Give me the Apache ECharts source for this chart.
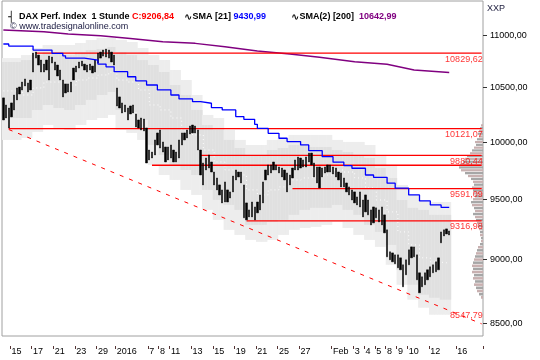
<!DOCTYPE html>
<html><head><meta charset="utf-8">
<script src="https://cdn.jsdelivr.net/npm/echarts@6/dist/echarts.min.js"></script>
<style>html,body{margin:0;padding:0;background:#fff}#c{width:540px;height:360px}</style>
</head><body><div id="c"></div>
<script>
// ---- axis categories (trading days, hourly slots) ----
const dayLabels = ['14','15','16','17','18','21','22','23','28','29','30','2016','5','6','7','8','11','12','13','14','15','18','19','20','21','22','25','26','27','28','29','Feb','2','3','4','5','8','9','10','11','12','15','16'];
const daySlots  = [3,4,4,4,4,4,4,4,4,4,3,4,4,4,4,4,4,4,4,4,4,4,4,4,4,4,4,4,4,4,4,4,4,4,4,4,4,4,4,4,4,6,10];
const dayShown  = [0,1,0,1,0,1,0,1,0,1,0,1,0,0,1,1,1,0,1,0,1,0,1,0,1,0,1,0,1,0,0,1,0,1,1,1,1,1,1,0,1,0,1];
const yTicks = [8500,9000,9500,10000,10500,11000];

// ---- price (hourly bars: high / low) ----
const priceHigh = [10404,10338,10310,10357,10431,10497,10506,10553,10582,10544,10572,10830,10840,10811,10763,10724,10763,10801,10792,10744,10715,10667,10572,10535,10535,10553,10686,10705,10744,10753,10724,10715,10724,10705,10763,10830,10840,10860,10870,10860,10840,10811,
10497,10413,10357,10338,10310,10329,10338,10255,10200,10218,10209,10127,9929,9911,10019,10082,10109,10001,9956,9956,9974,9929,9911,10019,10082,10082,10109,10145,10154,10145,10109,9929,9814,9858,9885,9823,9735,9683,9623,9580,9649,9580,9563,9700,9753,9735,9735,9623,9469,9410,9477,9435,9477,9537,9649,9753,9797,9797,9823,9797,9779,9770,9753,9727,9709,9770,9841,9867,9858,9841,9867,9902,9902,9814,9779,9779,9770,9779,9797,9797,9779,9770,9735,9727,9683,9640,9606,9580,9563,9520,9563,9494,9537,9494,9410,9435,9427,9410,9435,9368,9243,9063,9054,9038,9038,9014,8958,8998,9079,9103,9103,9038,8894,8862,8894,8918,8942,8958,8982,9014,9226,9243,9251,9234];
const priceLow = [10200,10218,10127,10228,10292,10385,10440,10478,10516,10459,10478,10648,10782,10715,10648,10648,10667,10572,10734,10667,10610,10572,10413,10450,10459,10459,10572,10648,10686,10705,10667,10648,10667,10639,10648,10734,10782,10801,10792,10782,10744,10715,
10329,10310,10264,10274,10200,10255,10264,10136,10127,10109,10100,9814,9841,9858,9885,9974,9947,9911,9823,9841,9858,9823,9823,9858,9974,10019,10037,10073,10082,10082,9929,9709,9623,9753,9770,9735,9623,9580,9537,9469,9477,9477,9511,9563,9666,9692,9640,9343,9326,9351,9351,9326,9385,9410,9469,9666,9709,9727,9753,9753,9727,9692,9666,9563,9623,9683,9753,9753,9770,9779,9779,9823,9797,9692,9640,9597,9692,9727,9735,9735,9718,9692,9666,9606,9606,9563,9537,9494,9469,9452,9435,9351,9393,9368,9284,9301,9343,9309,9284,9218,9022,8998,8982,8966,8934,8918,8783,8878,8958,9014,9022,8838,8736,8783,8799,8838,8862,8894,8902,8918,9136,9193,9209,9201];

// ---- moving averages [slot, value] ----
const sma21 = [[0,10919],[2,10899],[11,10860],[18,10828],[22,10804],[23,10782],[30,10763],[35,10724],[38,10698],[41,10651],[46,10603],[49,10563],[53,10525],[57,10478],[62,10431],[65,10394],[70,10369],[73,10354],[77,10313],[81,10292],[86,10231],[89,10206],[93,10160],[94,10124],[98,10079],[102,10034],[105,10004],[110,9974],[113,9923],[118,9870],[122,9821],[126,9791],[129,9768],[134,9709],[137,9689],[142,9638],[145,9595],[150,9537],[154,9486],[158,9452],[162,9431],[165,9431]];
const sma200 = [[0,11056],[15,11039],[24,11017],[36,11000],[47,10974],[59,10941],[71,10925],[82,10892],[94,10850],[106,10821],[117,10789],[130,10747],[142,10722],[152,10667],[165,10643]];

// ---- daily channel (per trading day) ----
const bandOuterTop = [10782,10782,10811,10880,10909,10909,10909,10929,10958,10978,10978,10958,10938,10880,10811,10763,10667,10572,10431,10246,10218,10109,10019,9974,9974,10019,10037,10064,10064,10064,10064,10019,10001,10001,9974,9885,9797,9623,9537,9494,9477,9477];
const bandInnerTop = [10744,10744,10763,10811,10840,10840,10811,10840,10860,10870,10889,10840,10811,10763,10715,10648,10525,10431,10292,10154,10109,10019,9947,9885,9885,9929,9947,9974,9974,9956,9956,9929,9911,9885,9858,9770,9683,9494,9427,9410,9368,9368];
const bandInnerBottom = [10218,10218,10218,10292,10338,10310,10292,10338,10385,10431,10459,10292,10274,10200,9974,9885,9797,9753,9709,9580,9494,9452,9410,9284,9284,9309,9326,9368,9410,9427,9427,9452,9410,9368,9284,9226,9119,8918,8799,8721,8697,8682];
const bandOuterBottom = [10019,10019,10037,10091,10154,10127,10109,10154,10200,10218,10246,10109,10082,10019,9797,9709,9666,9580,9537,9410,9326,9243,9201,9160,9144,9160,9201,9243,9259,9268,9284,9309,9259,9201,9160,9103,8958,8799,8682,8620,8566,8566];
const bandMid = [10469,10469,10431,10497,10553,10553,10525,10572,10591,10620,10648,10572,10553,10478,10338,10292,10218,10109,10064,9929,9823,9753,9709,9580,9537,9580,9606,9666,9683,9692,9709,9753,9735,9683,9597,9494,9393,9226,9119,9014,8982,8974];

// ---- volume profile (price bin, relative volume) ----
const profilePrice = [10150,10125,10100,10075,10050,10025,10000,9975,9950,9925,9900,9875,9850,9825,9800,9775,9750,9725,9700,9675,9650,9625,9600,9575,9550,9525,9500,9475,9450,9425,9400,9375,9350,9325,9300,9275,9250,9225,9200,9175,9150,9125,9100,9075,9050,9025,9000,8975,8950,8925,8900,8875,8850,8825,8800,8775,8750,8725,8700];
const profileVolume = [2,3,4,5,4,6,8,7,9,11,13,16,18,20,23,24,22,18,15,12,10,9,11,10,9,8,10,12,11,9,8,10,8,7,6,5,4,3,3,2,2,3,5,6,7,8,9,10,11,10,11,9,10,8,9,7,6,4,2];

// ---- horizontal levels & trend ----
const levelValues = [10829.62, 10121.07, 9880.44, 9794, 9591.09, 9316.98];
const levelStart  = [12, 2, 73, 55, 107, 90];
const levelText   = ['10829,62','10121,07','9880,44','','9591,09','9316,98'];
const trendPoints = [[2,10113],[177,8496]];
const trendText = '8547,79';

// ---- build ----
const cats = [], catLabel = [], slotDay = [];
dayLabels.forEach((d,k)=>{ for(let j=0;j<daySlots[k];j++){ cats.push('s'+cats.length); catLabel.push(j===0 && dayShown[k] ? d : ''); slotDay.push(k);} });
const lastCat = cats.length-1;
const nData = priceHigh.length;
const candle = priceHigh.map((h,i)=>[priceLow[i], h, priceLow[i], h]);
const bandData = [], midData = [];
for(let i=0;i<nData;i++){ const k=slotDay[i]; bandData.push([i,bandOuterTop[k],bandInnerTop[k],bandInnerBottom[k],bandOuterBottom[k]]); midData.push([i,bandMid[k]]); }

const FONT = 'Liberation Sans';
const fmt = v => v.toFixed(2).replace('.',',');

const series = [];
series.push({
  type:'custom', clip:true, z:1, silent:true,
  renderItem(params, api){
    const i = api.value(0);
    const a = api.coord([i, api.value(1)]);
    const b = api.coord([i+1, api.value(1)]);
    const w = b[0]-a[0];
    const x0 = a[0]-w/2;
    const yoT=a[1], yiT=api.coord([i,api.value(2)])[1], yiB=api.coord([i,api.value(3)])[1], yoB=api.coord([i,api.value(4)])[1];
    return {type:'group', children:[
      {type:'rect', shape:{x:x0,y:yoT,width:w+0.6,height:yoB-yoT}, style:{fill:'#ededed'}},
      {type:'rect', shape:{x:x0,y:yiT,width:w+0.6,height:yiB-yiT}, style:{fill:'#e0e0e0'}}
    ]};
  },
  data: bandData
});
series.push({type:'line', step:'end', data:midData, symbol:'none', silent:true, z:2, lineStyle:{color:'#fff', width:1, type:[1,3]}});
// volume profile drawn against the right edge of the plot
series.push({
  type:'custom', clip:true, z:2, silent:true,
  renderItem(params, api){
    const p = api.value(0), v = api.value(1), idx = params.dataIndex;
    const c = api.coord([lastCat, p]);
    const c2 = api.coord([lastCat, p + 25]);
    const h = Math.max(1.5, (c[1]-c2[1]) - 0.6);
    const right = params.coordSys.x + params.coordSys.width;
    const w = v * 1.0;
    return {type:'rect', shape:{x:right-w, y:c[1]-h/2, width:w, height:h},
      style:{fill: idx%2 ? '#a6a6a6' : '#c8b0b0'}};
  },
  data: profilePrice.map((p,i)=>[p, profileVolume[i]])
});
series.push({type:'line', data:sma200, symbol:'none', silent:true, z:3, lineStyle:{color:'#800080', width:1.5}});
levelValues.forEach((v,k)=>{
  series.push({type:'line', symbol:'none', silent:true, z:4, lineStyle:{color:'#ff0000', width:1.3},
    data:[[levelStart[k], v], [lastCat, v]]});
});
series.push({type:'line', symbol:'none', silent:true, z:4, lineStyle:{color:'#ff0000', width:1, type:[4,6]}, data:trendPoints});
// value labels at the right end of each level
series.push({type:'scatter', silent:true, z:7, symbolSize:1, itemStyle:{color:'rgba(0,0,0,0)'},
  label:{show:true, position:'bottom', align:'right', distance:1, offset:[1,0], color:'#ff0000', fontSize:9, fontFamily:FONT,
    formatter:(p)=>p.data[2]},
  data: levelValues.map((v,k)=>[lastCat, v, levelText[k]]).filter(d=>d[2])
});
series.push({type:'scatter', silent:true, z:7, symbolSize:1, itemStyle:{color:'rgba(0,0,0,0)'},
  label:{show:true, position:'top', align:'right', distance:3, offset:[1,0], color:'#ff0000', fontSize:9, fontFamily:FONT,
    formatter:(p)=>p.data[2]},
  data: [[trendPoints[1][0], trendPoints[1][1], trendText]]
});
series.push({type:'candlestick', data:candle, barWidth:1.8, z:5, silent:true,
  itemStyle:{color:'#000', color0:'#000', borderColor:'#000', borderColor0:'#000', borderWidth:0.5}});
series.push({type:'line', step:'end', data:sma21, symbol:'none', silent:true, z:6, lineStyle:{color:'#0000ff', width:1.3}});

const chart = echarts.init(document.getElementById('c'), null, {renderer:'canvas'});
chart.setOption({
  animation:false,
  backgroundColor:'#fff',
  textStyle:{fontFamily:FONT},
  title:[{
    left:3, top:3,
    text:'{i|┤} {t|DAX Perf. Index  1 Stunde }{r|C:9206,84}  {w|∿}{t|SMA [21] }{b|9430,99}     {w|∿}{t|SMA(2) [200]  }{p|10642,99}',
    textStyle:{rich:{
      i:{fontSize:10, fontFamily:'DejaVu Sans', color:'#000'},
      w:{fontSize:10, fontFamily:'DejaVu Sans', color:'#000'},
      t:{fontSize:9, fontFamily:FONT, color:'#000'},
      r:{fontSize:9, fontFamily:FONT, color:'#ff0000'},
      b:{fontSize:9, fontFamily:FONT, color:'#0000ff'},
      p:{fontSize:9, fontFamily:FONT, color:'#800080'}
    }}
  },{
    left:5, top:17, text:'© www.tradesignalonline.com', textStyle:{fontSize:9, fontFamily:FONT, color:'#1a1a40', fontWeight:'normal'}
  }],
  graphic:[{type:'text', left:487, top:4, style:{text:'XXP', fontSize:9, fontFamily:FONT, fill:'#202040'}}],
  grid:{left:2, right:57, top:1, bottom:24, show:true, borderColor:'#a0a0a0', borderWidth:1, backgroundColor:'#fff', outerBoundsMode:'none'},
  xAxis:{type:'category', data:cats, boundaryGap:true, offset:10,
    axisLine:{show:false},
    axisTick:{show:true, length:3, interval:(i)=>catLabel[i]!=='', lineStyle:{color:'#553333'}},
    axisLabel:{interval:(i)=>catLabel[i]!=='', formatter:(v,i)=>catLabel[i], align:'left', margin:1, fontSize:9, color:'#000', fontFamily:FONT},
    splitLine:{show:false}},
  yAxis:{type:'log', logBase:10, min:8404, max:11348, position:'right',
    axisLine:{show:false},
    axisTick:{show:true, length:4, customValues:yTicks, lineStyle:{color:'#333'}},
    axisLabel:{customValues:yTicks, formatter:fmt, fontSize:9, color:'#000', margin:7, fontFamily:FONT},
    splitLine:{show:false}, minorTick:{show:false}},
  series
});
</script></body></html>
